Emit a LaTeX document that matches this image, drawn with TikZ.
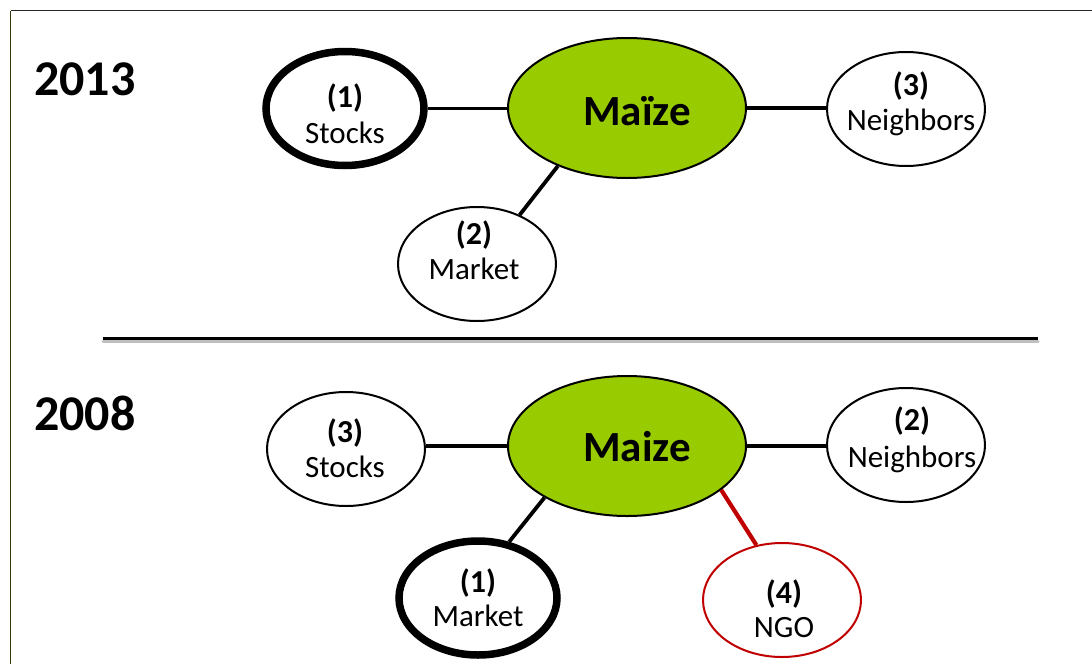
\documentclass[tikz,border=0pt]{standalone}
\usepackage{fontspec}
\setmainfont{Carlito}
\usetikzlibrary{shapes.geometric}
\definecolor{maizegreen}{HTML}{99CC00}
\definecolor{ngored}{HTML}{C00000}
\definecolor{frameolive}{rgb}{0.22,0.22,0.05}
\tikzset{
  smallell/.style={ellipse, draw=black, line width=2pt, fill=white, minimum width=158pt, minimum height=114pt, inner sep=0pt},
  thickell/.style={smallell, line width=7.5pt},
  redell/.style={smallell, draw=ngored},
  maizeell/.style={ellipse, draw=black, line width=2pt, fill=maizegreen, minimum width=238pt, minimum height=140pt, inner sep=0pt},
  numtxt/.style={anchor=base, inner sep=0pt, font=\fontsize{32}{38}\selectfont\bfseries},
  nametxt/.style={anchor=base, inner sep=0pt, font=\fontsize{31}{37}\selectfont},
  maizetxt/.style={anchor=base, inner sep=0pt, font=\fontsize{43}{50}\selectfont\bfseries},
  yeartxt/.style={anchor=base west, inner sep=0pt, font=\fontsize{50}{60}\selectfont\bfseries},
  link/.style={draw=black, line width=3.8pt},
  redlink/.style={draw=ngored, line width=4.2pt},
}
\begin{document}
\begin{tikzpicture}[x=1pt, y=-1pt]
\useasboundingbox (0,0) rectangle (1092,664);
\fill[white] (0,0) rectangle (1092,664);
% frame
\coordinate (fTL) at (10.5,10.5);
\coordinate (fTR) at (1092,10.5);
\coordinate (fBL) at (10.5,664);
\draw[line width=1.8pt, black!85] (fTL) -- (fTR);
\draw[line width=1.8pt, frameolive] (fTL) -- (fBL);
% separator
\coordinate (sepL) at (103,338);
\coordinate (sepR) at (1038,338);
\draw[line width=3pt, black!25, line cap=round] ([yshift=-3pt]sepL) -- ([yshift=-3pt]sepR);
\draw[line width=3pt, black] (sepL) -- (sepR);
% years
\node[yeartxt] (y13) at (34,95) {2013};
\node[yeartxt] (y08) at (34,430) {2008};

% ----- 2013 -----
\node[maizeell] (mz13) at (627,108) {};
\node[thickell] (s13) at (345,108.5) {};
\node[smallell] (n13) at (906,109) {};
\node[smallell] (mk13) at (477,264) {};
\draw[link] (s13.east) -- (s13.east -| mz13.west);
\draw[link] (mz13.east) -- (mz13.east -| n13.west);
\draw[link] (mz13.220) -- (mk13.49);
\node[maizetxt] (mz13t) at (637,125) {Maïze};
\node[numtxt] (s13n) at (345,107) {(1)};
\node[nametxt] (s13l) at (345,143) {Stocks};
\node[numtxt] (n13n) at (911,95) {(3)};
\node[nametxt] (n13l) at (911,130) {Neighbors};
\node[numtxt] (mk13n) at (474,244) {(2)};
\node[nametxt] (mk13l) at (474,279) {Market};

% ----- 2008 -----
\node[maizeell] (mz08) at (627,446) {};
\node[smallell] (s08) at (346,449) {};
\node[smallell] (n08) at (906,445) {};
\node[thickell] (mk08) at (478,598) {};
\node[redell] (ngo) at (782,600) {};
\draw[link] (mz08.west) -- (mz08.west -| s08.east);
\draw[link] (mz08.east) -- (mz08.east -| n08.west);
\draw[link] (mz08.212) -- (mk08.61);
\draw[redlink] (mz08.335) -- (ngo.115);
\node[maizetxt] (mz08t) at (637,461) {Maize};
\node[numtxt] (s08n) at (345,442) {(3)};
\node[nametxt] (s08l) at (345,477) {Stocks};
\node[numtxt] (n08n) at (912,430) {(2)};
\node[nametxt] (n08l) at (912,467) {Neighbors};
\node[numtxt] (mk08n) at (478,592) {(1)};
\node[nametxt] (mk08l) at (478,626) {Market};
\node[numtxt] (ngon) at (784,603) {(4)};
\node[nametxt] (ngol) at (784,637) {NGO};
\end{tikzpicture}
\end{document}
